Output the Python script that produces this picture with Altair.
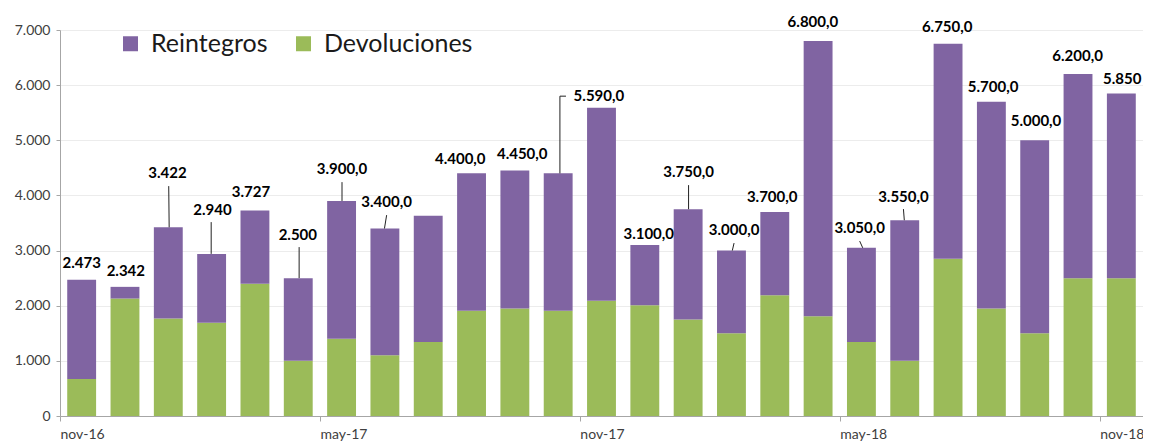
import altair as alt
import pandas as pd

# ---- data ----
months = ["nov-16", "dic-16", "ene-17", "feb-17", "mar-17", "abr-17", "may-17",
          "jun-17", "jul-17", "ago-17", "sep-17", "oct-17", "nov-17", "dic-17",
          "ene-18", "feb-18", "mar-18", "abr-18", "may-18", "jun-18", "jul-18",
          "ago-18", "sep-18", "oct-18", "nov-18"]
devoluciones = [670, 2130, 1770, 1690, 2400, 1000, 1400, 1100, 1340, 1910, 1950, 1910,
                2090, 2010, 1750, 1500, 2190, 1810, 1340, 1000, 2850, 1950, 1500, 2500, 2500]
reintegros = [1803, 212, 1652, 1250, 1327, 1500, 2500, 2300, 2290, 2490, 2500, 2490,
              3500, 1090, 2000, 1500, 1510, 4990, 1710, 2550, 3900, 3750, 3500, 3700, 3350]
label_text = ["2.473", "2.342", "3.422", "2.940", "3.727", "2.500", "3.900,0", "3.400,0", "",
              "4.400,0", "4.450,0", "", "5.590,0", "3.100,0", "3.750,0", "3.000,0", "3.700,0",
              "6.800,0", "3.050,0", "3.550,0", "6.750,0", "5.700,0", "5.000,0", "6.200,0", "5.850"]
axis_months = [0, 6, 12, 18, 24]
series = ["Reintegros", "Devoluciones"]
colors = ["#8064A2", "#9BBB59"]

# label placement (as in the original, in data units: month index, value)
label_x = [0.5, 1.52, 2.48, 3.52, 4.41, 5.49, 6.51, 7.54, 8.5, 9.24, 10.67, 11.5, 12.44,
           13.59, 14.51, 15.56, 16.44, 17.38, 18.46, 19.47, 20.48, 21.54, 22.53, 23.49, 24.52]
label_y = [2773, 2628, 4405, 3734, 4060, 3281, 4477, 3879, 0, 4658, 4749, 0, 5800,
           3299, 4423, 3371, 3970, 7142, 3408, 3970, 7051, 5963, 5347, 6525, 6108]
# leader lines: (x1, y1, x2, y2)
leaders = [(2.52, 3422, 2.51, 4169), (3.49, 2940, 3.49, 3516), (5.52, 2500, 5.52, 3063),
           (6.51, 3900, 6.51, 4241), (7.49, 3400, 7.54, 3643), (11.54, 4400, 11.54, 5800),
           (11.54, 5800, 11.68, 5800), (14.51, 3750, 14.51, 4187), (15.52, 3000, 15.56, 3136),
           (18.53, 3050, 18.46, 3172), (19.49, 3550, 19.47, 3752)]

FONT = "Lato"

rows = []
for i, m in enumerate(months):
    rows.append({"i": i, "serie": "Devoluciones", "y0": 0, "y1": devoluciones[i]})
    rows.append({"i": i, "serie": "Reintegros", "y0": devoluciones[i],
                 "y1": devoluciones[i] + reintegros[i]})
bars_df = pd.DataFrame(rows)
labels_df = pd.DataFrame({"t": label_text, "lx": label_x, "ly": label_y})
labels_df = labels_df[labels_df["t"] != ""]
lead_df = pd.DataFrame(leaders, columns=["x1", "y1", "x2", "y2"])

xscale = alt.Scale(domain=[0, len(months)], nice=False, zero=False)
yscale = alt.Scale(domain=[0, 7000], nice=False)
month_arr = "[" + ",".join("'%s'" % m for m in months) + "]"

bars = alt.Chart(bars_df).transform_calculate(
    xa="datum.i + 1/6", xb="datum.i + 5/6"
).mark_bar().encode(
    x=alt.X("xa:Q", scale=xscale, axis=alt.Axis(
        values=axis_months, labelExpr=month_arr + "[datum.value]", title=None,
        grid=False, labelAlign="left", labelFlush=False, labelOverlap=False,
        tickSize=5, labelPadding=6, domainColor="#a6a6a6", tickColor="#a6a6a6",
        labelFont=FONT, labelFontSize=14, labelColor="#404040")),
    x2="xb:Q",
    y=alt.Y("y0:Q", scale=yscale, axis=alt.Axis(
        values=list(range(0, 7001, 1000)), title=None,
        labelExpr="replace(format(datum.value, ','), ',', '.')",
        gridColor="#ececec", domainColor="#a6a6a6", tickColor="#a6a6a6", tickSize=4,
        labelPadding=6, labelFont=FONT, labelFontSize=14, labelColor="#404040")),
    y2="y1:Q",
    color=alt.Color("serie:N", scale=alt.Scale(domain=series, range=colors),
                    legend=alt.Legend(orient="none", direction="horizontal", legendX=58,
                                      legendY=1, title=None, symbolType="square",
                                      symbolSize=225, symbolStrokeWidth=0,
                                      labelFont=FONT, labelFontSize=25, labelColor="#1a1a1a",
                                      labelOffset=8, columnPadding=23, labelLimit=300)),
)

leader_lines = alt.Chart(lead_df).mark_rule(color="#222222", strokeWidth=1).encode(
    x=alt.X("x1:Q", scale=xscale), x2="x2:Q",
    y=alt.Y("y1:Q", scale=yscale), y2="y2:Q",
)

texts = alt.Chart(labels_df).mark_text(
    font=FONT, fontSize=15, fontWeight="bold", color="#000000",
    align="center", baseline="middle"
).encode(
    x=alt.X("lx:Q", scale=xscale),
    y=alt.Y("ly:Q", scale=yscale),
    text="t:N",
)

chart = alt.layer(bars, leader_lines, texts).properties(
    width=1083, height=386,
    autosize=alt.AutoSizeParams(type="none"),
    padding={"left": 52, "top": 22, "right": 0, "bottom": 27},
    background="white",
).configure_view(stroke=None)

chart.save("out.html", embed_options={"renderer": "svg", "actions": False})
